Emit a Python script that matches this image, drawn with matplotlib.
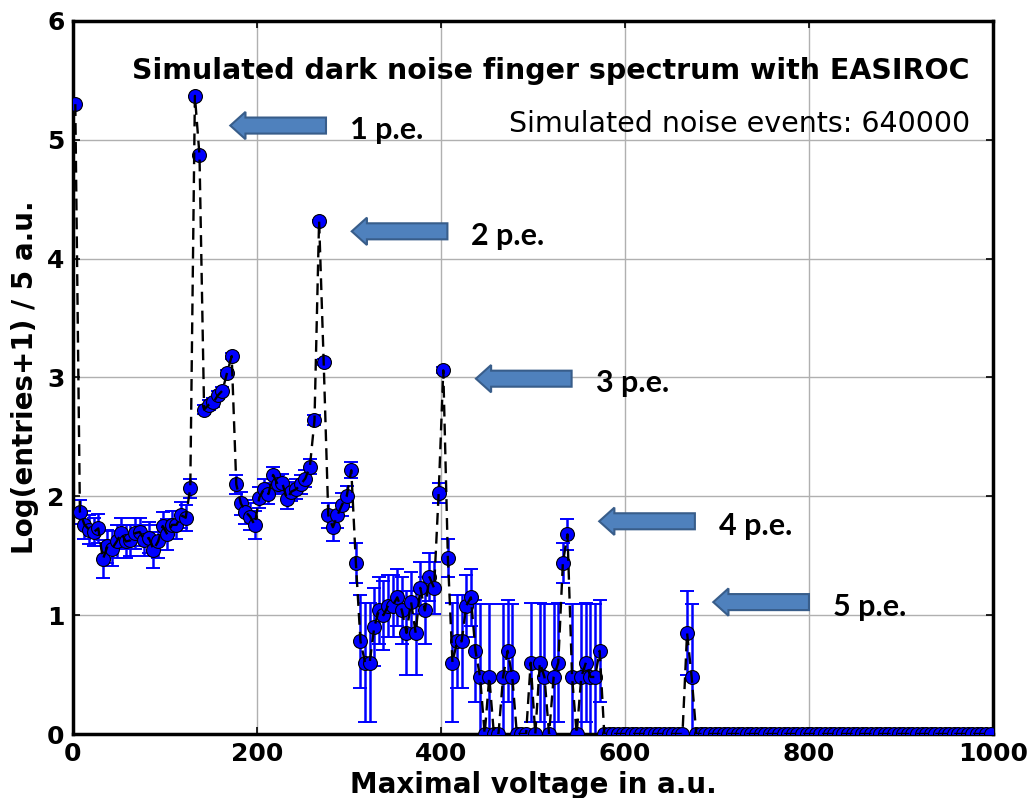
import numpy as np
import matplotlib
matplotlib.use("Agg")
import matplotlib.pyplot as plt
from matplotlib.patches import FancyArrow

# Histogram of the maximal pulse voltage, 5 a.u. bins, 0 .. 1000
bin_width = 5.0
bin_low = 0.0
bin_high = 1000.0

# log10(entries + 1) per bin
log_entries = [
    5.30, 1.87, 1.76, 1.72, 1.70, 1.73, 1.47, 1.58, 1.56, 1.62,
    1.69, 1.62, 1.63, 1.69, 1.70, 1.63, 1.65, 1.55, 1.62, 1.75,
    1.68, 1.76, 1.76, 1.84, 1.82, 2.07, 5.37, 4.87, 2.73, 2.77,
    2.79, 2.85, 2.89, 3.04, 3.18, 2.10, 1.94, 1.87, 1.83, 1.76,
    1.99, 2.06, 2.02, 2.18, 2.10, 2.11, 1.98, 2.04, 2.06, 2.10,
    2.15, 2.25, 2.64, 4.32, 3.13, 1.84, 1.74, 1.84, 1.93, 2.00,
    2.22, 1.44, 0.78, 0.60, 0.60, 0.90, 1.04, 1.00, 1.08, 1.08,
    1.15, 1.04, 0.85, 1.11, 0.85, 1.23, 1.04, 1.32, 1.23, 2.03,
    3.06, 1.48, 0.60, 0.78, 0.78, 1.08, 1.15, 0.70, 0.48, 0.00,
    0.48, 0.00, 0.00, 0.48, 0.70, 0.48, 0.00, 0.00, 0.00, 0.60,
    0.00, 0.60, 0.48, 0.00, 0.48, 0.60, 1.44, 1.68, 0.48, 0.00,
    0.48, 0.60, 0.48, 0.48, 0.70, 0.00, 0.00, 0.00, 0.00, 0.00,
    0.00, 0.00, 0.00, 0.00, 0.00, 0.00, 0.00, 0.00, 0.00, 0.00,
    0.00, 0.00, 0.00, 0.85, 0.48, 0.00, 0.00, 0.00, 0.00, 0.00,
    0.00, 0.00, 0.00, 0.00, 0.00, 0.00, 0.00, 0.00, 0.00, 0.00,
    0.00, 0.00, 0.00, 0.00, 0.00, 0.00, 0.00, 0.00, 0.00, 0.00,
    0.00, 0.00, 0.00, 0.00, 0.00, 0.00, 0.00, 0.00, 0.00, 0.00,
    0.00, 0.00, 0.00, 0.00, 0.00, 0.00, 0.00, 0.00, 0.00, 0.00,
    0.00, 0.00, 0.00, 0.00, 0.00, 0.00, 0.00, 0.00, 0.00, 0.00,
    0.00, 0.00, 0.00, 0.00, 0.00, 0.00, 0.00, 0.00, 0.00, 0.00,
]

# statistical uncertainty on log10(entries + 1)
log_errors = [
    0.002, 0.10, 0.12, 0.12, 0.12, 0.12, 0.16, 0.14, 0.15, 0.14,
    0.13, 0.14, 0.13, 0.13, 0.12, 0.13, 0.13, 0.15, 0.14, 0.12,
    0.13, 0.12, 0.12, 0.11, 0.11, 0.08, 0.002, 0.003, 0.04, 0.04,
    0.035, 0.033, 0.031, 0.026, 0.022, 0.078, 0.094, 0.10, 0.11, 0.12,
    0.088, 0.082, 0.085, 0.071, 0.078, 0.077, 0.089, 0.083, 0.082, 0.078,
    0.073, 0.065, 0.042, 0.006, 0.024, 0.105, 0.118, 0.105, 0.095, 0.087,
    0.068, 0.17, 0.39, 0.50, 0.50, 0.33, 0.28, 0.29, 0.26, 0.26,
    0.24, 0.28, 0.35, 0.25, 0.35, 0.22, 0.28, 0.20, 0.22, 0.085,
    0.026, 0.16, 0.50, 0.39, 0.39, 0.26, 0.24, 0.43, 0.61, 0.00,
    0.61, 0.00, 0.00, 0.61, 0.43, 0.61, 0.00, 0.00, 0.00, 0.50,
    0.00, 0.50, 0.61, 0.00, 0.61, 0.50, 0.17, 0.13, 0.61, 0.00,
    0.61, 0.50, 0.61, 0.61, 0.43, 0.00, 0.00, 0.00, 0.00, 0.00,
    0.00, 0.00, 0.00, 0.00, 0.00, 0.00, 0.00, 0.00, 0.00, 0.00,
    0.00, 0.00, 0.00, 0.35, 0.61, 0.00, 0.00, 0.00, 0.00, 0.00,
] + [0.00] * 60

# photo-electron peak markers: arrow tip (x, y) and label
pe_labels = ["1 p.e.", "2 p.e.", "3 p.e.", "4 p.e.", "5 p.e."]
pe_tip_x = [171, 303, 438, 572, 696]
pe_tip_y = [5.12, 4.23, 2.99, 1.79, 1.11]

title_text = "Simulated dark noise finger spectrum with EASIROC"
events_text = "Simulated noise events: 640000"

x = np.arange(bin_low + bin_width / 2, bin_high, bin_width)
y = np.array(log_entries)
yerr = np.array(log_errors)

fig = plt.figure(figsize=(10.31, 7.98), dpi=100)
ax = fig.add_axes([0.0708, 0.0802, 0.8923, 0.8935])

ax.errorbar(x, y, yerr=yerr, fmt="none", ecolor="#0000ff", elinewidth=1.8,
            capsize=5, capthick=1.4, zorder=2)
ax.plot(x, y, "o", color="#0000ff", markeredgecolor="black",
        markeredgewidth=0.8, markersize=10, zorder=3)
ax.plot(x, y, color="black", linewidth=1.7, linestyle=(0, (5, 3)), zorder=4)

ax.set_xlim(bin_low, bin_high)
ax.set_ylim(0, 6)
ax.set_xticks([0, 200, 400, 600, 800, 1000])
ax.set_yticks([0, 1, 2, 3, 4, 5, 6])
ax.grid(True, color="#b0b0b0", linewidth=1.0)
ax.set_axisbelow(True)
for s in ax.spines.values():
    s.set_linewidth(2.5)
ax.tick_params(direction="in", length=5, width=1.2, top=True, right=True,
               labelsize=18, pad=6)
for lab in ax.get_xticklabels() + ax.get_yticklabels():
    lab.set_fontweight("bold")

ax.set_xlabel("Maximal voltage in a.u.", fontsize=20, fontweight="bold",
              labelpad=3)
ax.set_ylabel("Log(entries+1) / 5 a.u.", fontsize=20, fontweight="bold",
              labelpad=6)

ax.text(0.975, 0.93, title_text, transform=ax.transAxes, ha="right",
        va="center", fontsize=20.5, fontweight="bold")
ax.text(0.975, 0.856, events_text, transform=ax.transAxes, ha="right",
        va="center", fontsize=20.5)

# block arrows pointing at each photo-electron peak
arrow_len = 104.0
for lab, tx, ty in zip(pe_labels, pe_tip_x, pe_tip_y):
    arr = FancyArrow(tx + arrow_len, ty, -arrow_len, 0.0, width=0.135,
                     head_width=0.23, head_length=16.5,
                     length_includes_head=True, facecolor="#4f81bd",
                     edgecolor="#385d8a", linewidth=1.5, zorder=6)
    ax.add_patch(arr)
    ax.text(tx + arrow_len + 26, ty - 0.04, lab, fontsize=22,
            fontweight="bold", family="Lato", ha="left", va="center",
            zorder=6)

fig.savefig("out.png", dpi=100)
